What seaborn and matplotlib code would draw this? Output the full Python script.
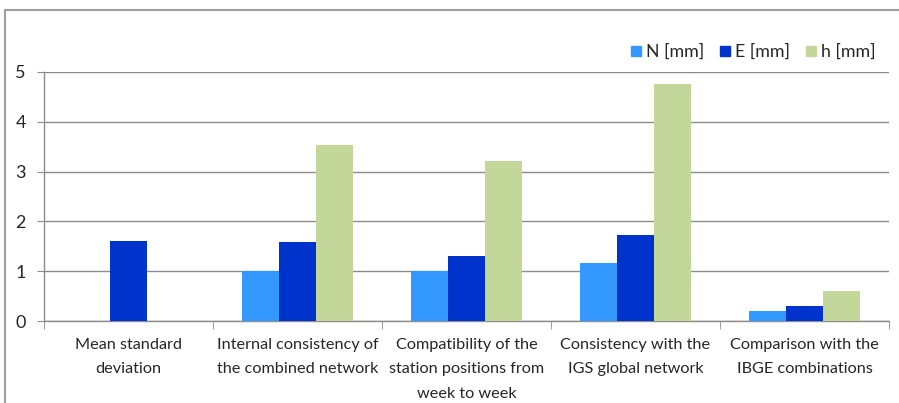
import matplotlib
matplotlib.use("Agg")
import matplotlib.pyplot as plt
from matplotlib.lines import Line2D
import seaborn as sns
import pandas as pd
import numpy as np

categories = ["Mean standard\ndeviation",
              "Internal consistency of\nthe combined network",
              "Compatibility of the\nstation positions from\nweek to week",
              "Consistency with the\nIGS global network",
              "Comparison with the\nIBGE combinations"]
series = ["N [mm]", "E [mm]", "h [mm]"]
n_vals = [np.nan, 1.0, 1.0, 1.17, 0.2]
e_vals = [1.6, 1.58, 1.3, 1.73, 0.3]
h_vals = [np.nan, 3.54, 3.22, 4.75, 0.6]
colors = ["#3399FF", "#0033CC", "#C4D79B"]

rows = []
for s, vals in zip(series, [n_vals, e_vals, h_vals]):
    for c, v in zip(categories, vals):
        rows.append({"cat": c, "series": s, "value": v})
df = pd.DataFrame(rows)

sns.set_style("white")
plt.rcParams['font.family'] = ['Lato', 'DejaVu Sans']

fig = plt.figure(figsize=(8.99, 4.03), dpi=100)
ax = fig.add_axes([44/899, 1-321/403, (889-44)/899, (321-72)/403])

sns.barplot(data=df, x="cat", y="value", hue="series", order=categories,
            hue_order=series, palette=colors, width=0.66, saturation=1,
            ax=ax, zorder=3, linewidth=0)

ax.set_ylim(0, 5)
ax.set_xlim(-0.5, 4.5)
ax.set_yticks([0, 1, 2, 3, 4, 5])
ax.set_xlabel("")
ax.set_ylabel("")
ax.yaxis.grid(True, color="#8C8C8C", linewidth=1.0, zorder=0)
ax.set_axisbelow(True)
for sp in ["top", "right"]:
    ax.spines[sp].set_visible(False)
for sp in ["left", "bottom"]:
    ax.spines[sp].set_color("#8C8C8C")
    ax.spines[sp].set_linewidth(1.0)

ax.tick_params(axis="y", which="major", length=5, color="#8C8C8C", labelsize=13, pad=8, direction="out", left=True)
ax.tick_params(axis="x", which="major", length=0, labelsize=11.7, pad=12)
ax.set_xticks(np.arange(-0.5, 5, 1.0), minor=True)
ax.tick_params(axis="x", which="minor", length=6, color="#8C8C8C", bottom=True, direction="out")
for lab in ax.get_xticklabels():
    lab.set_horizontalalignment("center")
    lab.set_verticalalignment("top")
    lab.set_linespacing(1.95)

handles = [plt.Rectangle((0, 0), 1, 1, color=c) for c in colors]
ax.legend(handles, series, ncol=3, frameon=False, loc="upper right",
          bbox_to_anchor=(892/899, 1-28/403), bbox_transform=fig.transFigure,
          handlelength=0.55, handleheight=0.55, handletextpad=0.3,
          columnspacing=0.9, fontsize=12.8)

fig.add_artist(Line2D([5/899, 1.0], [1-10/403, 1-10/403], transform=fig.transFigure, color="#A0A0A0", linewidth=1.5))
fig.add_artist(Line2D([5/899, 5/899], [0, 1-10/403], transform=fig.transFigure, color="#A0A0A0", linewidth=1.5))

fig.savefig("out.png", dpi=100)
